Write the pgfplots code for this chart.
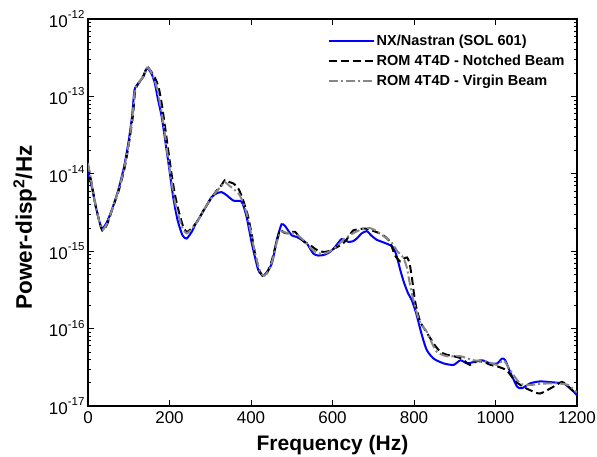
\documentclass[border=0pt]{standalone}
\usepackage{pgfplots}
\pgfplotsset{compat=1.18}
\usepackage{fontspec}
\setmainfont{Liberation Sans}
\definecolor{nxblue}{RGB}{0,0,255}
\definecolor{vgray}{RGB}{135,135,135}
\newcommand{\tl}[1]{10\raisebox{0.52em}{\fontsize{11.5}{11.5}\selectfont -#1}}

\begin{document}
\begin{tikzpicture}
\useasboundingbox (-88pt,-51pt) rectangle (509pt,406pt);
\begin{axis}[
  at={(0,0)}, anchor=south west,
  scale only axis, width=489pt, height=387pt,
  ymode=log, xmin=0, xmax=1200, ymin=1e-17, ymax=1e-12,
  xtick={0,200,...,1200},
  ytick={1e-17,1e-16,1e-15,1e-14,1e-13,1e-12},
  yticklabels={\tl{17},\tl{16},\tl{15},\tl{14},\tl{13},\tl{12}},
  axis line style={line width=1.4pt},
  major tick length=6pt, minor tick length=3.5pt,
  every tick/.style={black, line width=0.8pt},
  tick label style={font=\fontsize{17}{19}\selectfont},
  x tick label style={yshift=-2pt},
  /pgf/number format/assume math mode=true,
  /pgf/number format/1000 sep={},
  xlabel={Frequency (Hz)},
  ylabel={Power-disp\textsuperscript{2}/Hz},
  xlabel style={font=\bfseries\fontsize{21}{24}\selectfont,
    at={(axis description cs:0.5,-0.114)}, anchor=base},
  ylabel style={font=\bfseries\fontsize{22.5}{26}\selectfont,
    at={(axis description cs:-0.129,0.461)}, anchor=center},
  legend style={font=\bfseries\fontsize{14.5}{16}\selectfont, draw=none, fill=none,
    at={(0.985,0.97)}, anchor=north east, row sep=4pt},
  legend cell align=left,
  legend image code/.code={\draw[#1] (0pt,0pt) -- (45pt,0pt);},
  every axis plot/.append style={line width=2pt, smooth, tension=0.4},
]
\addplot[nxblue, solid] coordinates {
(0,1.1e-14)(10,6.5e-15)(20,3.6e-15)(33,2.0e-15)(45,2.3e-15)(60,3.6e-15)(74,6.1e-15)
(88,1.2e-14)(99,2.5e-14)(108,5.5e-14)(114,1.2e-13)(123,1.47e-13)(136,1.8e-13)
(144,2.3e-13)(150,2.2e-13)(157,1.9e-13)(164,1.48e-13)(172,9e-14)(181,5.4e-14)
(193,2.0e-14)(200,1.1e-14)(209,5e-15)(220,2.5e-15)(232,1.6e-15)(242,1.46e-15)
(255,1.8e-15)(265,2.3e-15)(275,2.8e-15)(290,3.8e-15)(303,5e-15)(316,5.6e-15)
(328,5.8e-15)(340,5.3e-15)(357,4.5e-15)(377,4.35e-15)(389,2.8e-15)(402,1.26e-15)
(418,5.7e-16)(432,4.9e-16)(451,6.9e-16)(463,1.38e-15)(475,2.23e-15)(484,2.1e-15)
(491,1.86e-15)(500,1.6e-15)(512,1.53e-15)(525,1.4e-15)(537,1.26e-15)(553,9.3e-16)
(565,8.8e-16)(577,8.9e-16)(590,9.5e-16)(602,1.07e-15)(615,1.3e-15)(622,1.43e-15)
(630,1.4e-15)(639,1.32e-15)(651,1.35e-15)(662,1.5e-15)(671,1.69e-15)(684,1.82e-15)
(695,1.6e-15)(708,1.41e-15)(725,1.3e-15)(741,1.2e-15)(750,1.1e-15)(758,8.5e-16)
(766,5.8e-16)(775,4e-16)(785,2.9e-16)(795,2.3e-16)(805,1.6e-16)(815,1e-16)
(824,6.8e-17)(832,5.2e-17)(848,4.1e-17)(873,3.55e-17)(897,3.4e-17)(914,3.9e-17)
(930,3.55e-17)(946,3.7e-17)(967,3.9e-17)(987,3.55e-17)(1004,3.55e-17)(1016,4.1e-17)
(1024,3.9e-17)(1036,2.75e-17)(1053,1.78e-17)(1065,1.7e-17)(1085,1.96e-17)(1110,2.08e-17)
(1151,2.0e-17)(1167,1.96e-17)(1183,1.7e-17)(1200,1.38e-17)
};
\addlegendentry{NX/Nastran (SOL 601)}
\addplot[black, dash pattern=on 8pt off 4pt] coordinates {
(0,1.3e-14)(10,7e-15)(20,3.6e-15)(35,1.85e-15)(48,2.3e-15)(62,3.8e-15)(76,6.2e-15)
(90,1.2e-14)(100,2.4e-14)(110,5.5e-14)(116,1.2e-13)(125,1.5e-13)(137,1.9e-13)
(145,2.4e-13)(155,2.1e-13)(165,1.7e-13)(173,1.33e-13)(181,8e-14)(189,4.05e-14)
(197,2.0e-14)(205,1e-14)(213,5.5e-15)(222,3.4e-15)(232,2.2e-15)(242,1.78e-15)
(255,2e-15)(270,2.5e-15)(285,3.5e-15)(300,4.6e-15)(315,6e-15)(328,7.2e-15)
(336,8.3e-15)(347,7.8e-15)(357,7.5e-15)(370,6.3e-15)(381,4.5e-15)(393,2.8e-15)
(402,1.6e-15)(410,9.3e-16)(420,5.8e-16)(430,4.7e-16)(440,5.3e-16)(451,7.6e-16)
(461,1.2e-15)(471,1.86e-15)(480,1.75e-15)(488,1.7e-15)(498,1.75e-15)(508,1.78e-15)
(520,1.5e-15)(532,1.3e-15)(545,1.2e-15)(560,1.05e-15)(577,9.8e-16)(590,1.0e-15)
(602,1.07e-15)(614,1.15e-15)(626,1.26e-15)(638,1.5e-15)(651,1.86e-15)(662,1.9e-15)
(672,1.95e-15)(684,1.95e-15)(696,1.86e-15)(710,1.75e-15)(725,1.6e-15)(741,1.32e-15)
(753,8.9e-16)(766,7.4e-16)(775,8e-16)(783,8.3e-16)(789,7e-16)(795,4.5e-16)
(803,2.2e-16)(815,1.24e-16)(828,9.5e-17)(840,7.5e-17)(852,6e-17)(865,5e-17)
(880,4.6e-17)(897,4.4e-17)(917,4.1e-17)(937,3.4e-17)(955,3.8e-17)(971,3.7e-17)
(988,3.4e-17)(1004,3.25e-17)(1027,2.9e-17)(1045,2.2e-17)(1053,2.0e-17)(1070,1.75e-17)
(1085,1.6e-17)(1109,1.45e-17)(1140,1.75e-17)(1163,2.05e-17)(1175,1.87e-17)(1188,1.6e-17)
(1200,1.45e-17)
};
\addlegendentry{ROM 4T4D - Notched Beam}
\addplot[vgray, dash pattern=on 9pt off 3pt on 2pt off 3pt] coordinates {
(0,1.37e-14)(10,7e-15)(20,3.6e-15)(34,1.9e-15)(47,2.3e-15)(61,3.7e-15)(75,6.1e-15)
(89,1.2e-14)(100,2.45e-14)(109,5.5e-14)(115,1.2e-13)(124,1.5e-13)(137,1.85e-13)
(145,2.35e-13)(153,2.15e-13)(161,1.75e-13)(169,1.3e-13)(178,7.5e-14)(187,3.8e-14)
(195,1.8e-14)(203,9.5e-15)(211,5e-15)(221,3e-15)(232,2e-15)(242,1.7e-15)
(255,1.95e-15)(270,2.5e-15)(285,3.5e-15)(300,4.6e-15)(315,5.9e-15)(328,7e-15)
(336,7.8e-15)(347,7e-15)(357,6.4e-15)(370,5.5e-15)(377,4.7e-15)(390,3e-15)
(402,1.5e-15)(412,8.5e-16)(422,5.5e-16)(432,4.8e-16)(445,5.8e-16)(455,8.5e-16)
(465,1.4e-15)(474,1.8e-15)(484,1.75e-15)(492,1.7e-15)(502,1.72e-15)(512,1.65e-15)
(525,1.45e-15)(540,1.2e-15)(555,1e-15)(570,9.3e-16)(585,9.5e-16)(600,1.05e-15)
(614,1.2e-15)(626,1.4e-15)(638,1.55e-15)(650,1.7e-15)(664,1.85e-15)(678,1.95e-15)
(690,2.0e-15)(702,1.9e-15)(716,1.7e-15)(730,1.5e-15)(741,1.38e-15)(752,1.15e-15)
(760,9.8e-16)(766,9.3e-16)(775,8e-16)(783,6e-16)(791,3.5e-16)(799,2.3e-16)
(811,1.35e-16)(820,1.1e-16)(832,9e-17)(844,6.5e-17)(856,5e-17)(880,4.4e-17)
(914,4.4e-17)(946,3.9e-17)(975,3.8e-17)(1004,3.4e-17)(1020,3.9e-17)(1036,2.9e-17)
(1061,1.95e-17)(1085,1.87e-17)(1118,1.95e-17)(1159,1.95e-17)(1180,1.85e-17)(1200,1.5e-17)
};
\addlegendentry{ROM 4T4D - Virgin Beam}
\end{axis}
\end{tikzpicture}
\end{document}
